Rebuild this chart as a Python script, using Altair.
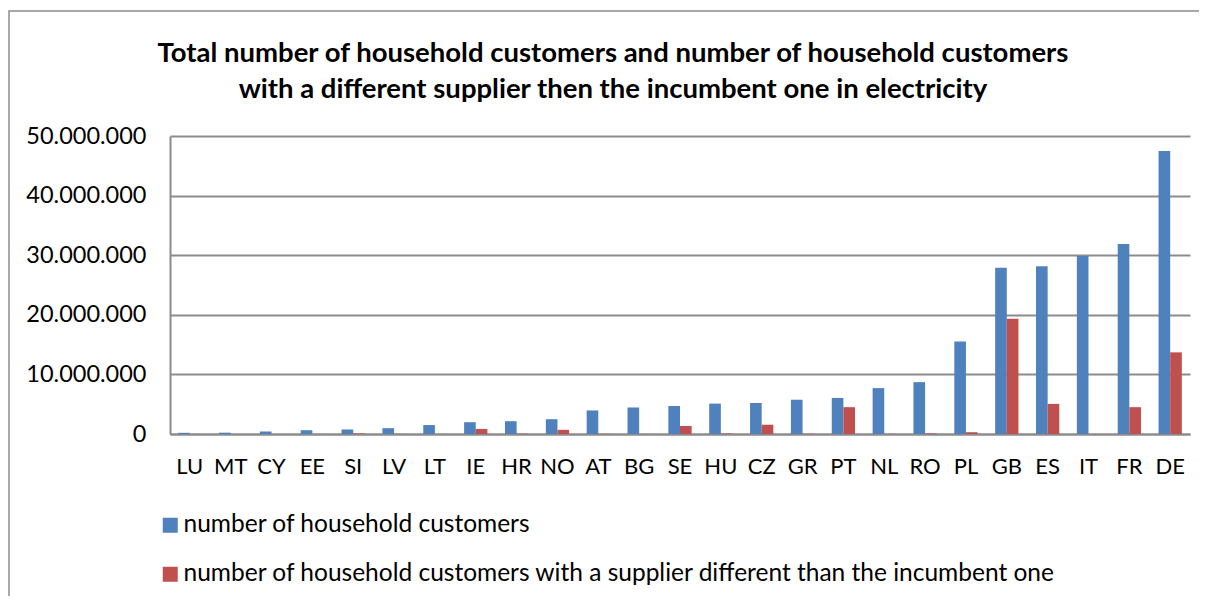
import altair as alt
import pandas as pd

countries = ["LU", "MT", "CY", "EE", "SI", "LV", "LT", "IE", "HR", "NO", "AT", "BG", "SE",
             "HU", "CZ", "GR", "PT", "NL", "RO", "PL", "GB", "ES", "IT", "FR", "DE"]
total = [200000, 220000, 420000, 640000, 760000, 980000, 1500000, 1980000, 2150000, 2480000,
         3950000, 4450000, 4700000, 5100000, 5200000, 5750000, 6050000, 7700000, 8700000,
         15500000, 27900000, 28150000, 29850000, 31900000, 47500000]
switched = [10000, 5000, 0, 10000, 90000, 20000, 10000, 850000, 50000, 700000,
            30000, 10000, 1340000, 80000, 1560000, 40000, 4500000, 30000, 100000,
            300000, 19350000, 5050000, 0, 4500000, 13700000]

s1 = "number of household customers"
s2 = "number of household customers with a supplier different than the incumbent one"

rows = []
for c, t, s in zip(countries, total, switched):
    rows.append({"country": c, "series": s1, "value": t})
    rows.append({"country": c, "series": s2, "value": s})
df = pd.DataFrame(rows)

font = "Lato"

bars = alt.Chart(df).mark_bar().encode(
    x=alt.X("country:N", sort=countries, title=None,
            scale=alt.Scale(paddingInner=0.43, paddingOuter=0.2),
            axis=alt.Axis(labelAngle=0, ticks=False, labelPadding=22, labelFontSize=22,
                          labelFont=font, labelColor="#000", domainColor="#8c8c8c",
                          domainWidth=2)),
    xOffset=alt.XOffset("series:N", sort=[s1, s2]),
    y=alt.Y("value:Q", title=None,
            scale=alt.Scale(domain=[0, 50000000]),
            axis=alt.Axis(values=[0, 10000000, 20000000, 30000000, 40000000, 50000000],
                          labelExpr="replace(format(datum.value, ','), /,/g, '.')",
                          ticks=False, labelPadding=24, labelFontSize=23.5, labelFont=font,
                          labelColor="#000", gridColor="#8c8c8c", gridWidth=2,
                          domainColor="#8c8c8c", domainWidth=2)),
    color=alt.Color("series:N", sort=[s1, s2],
                    scale=alt.Scale(domain=[s1, s2], range=["#4F81BD", "#C0504D"]),
                    legend=alt.Legend(title=None, orient="none", legendX=-12, legendY=377,
                                      direction="vertical", symbolType="square",
                                      symbolSize=225, symbolStrokeWidth=0,
                                      labelFontSize=24.5, labelFont=font, labelColor="#000",
                                      rowPadding=24, labelOffset=1, labelLimit=1100)),
)

border = alt.Chart(pd.DataFrame({"a": [0]})).mark_rect(
    fill=None, stroke="#8c8c8c", strokeWidth=1.5, clip=False
).encode(x=alt.value(-161), x2=alt.value(1200), y=alt.value(-125), y2=alt.value(600))

chart = alt.layer(border, bars).properties(
    width=1020, height=298,
    title=alt.TitleParams(
        text=["Total number of household customers and number of household customers",
              "with a different supplier then the incumbent one in electricity"],
        fontSize=27.5, fontWeight="bold", font=font, color="#000", lineHeight=36,
        anchor="middle", dx=-67, offset=0, dy=93),
    autosize=alt.AutoSizeParams(type="none"),
    padding={"left": 162, "top": 128, "right": 9, "bottom": 162},
).configure_view(stroke=None)

chart.save("out.html", embed_options={"renderer": "svg", "actions": False})
